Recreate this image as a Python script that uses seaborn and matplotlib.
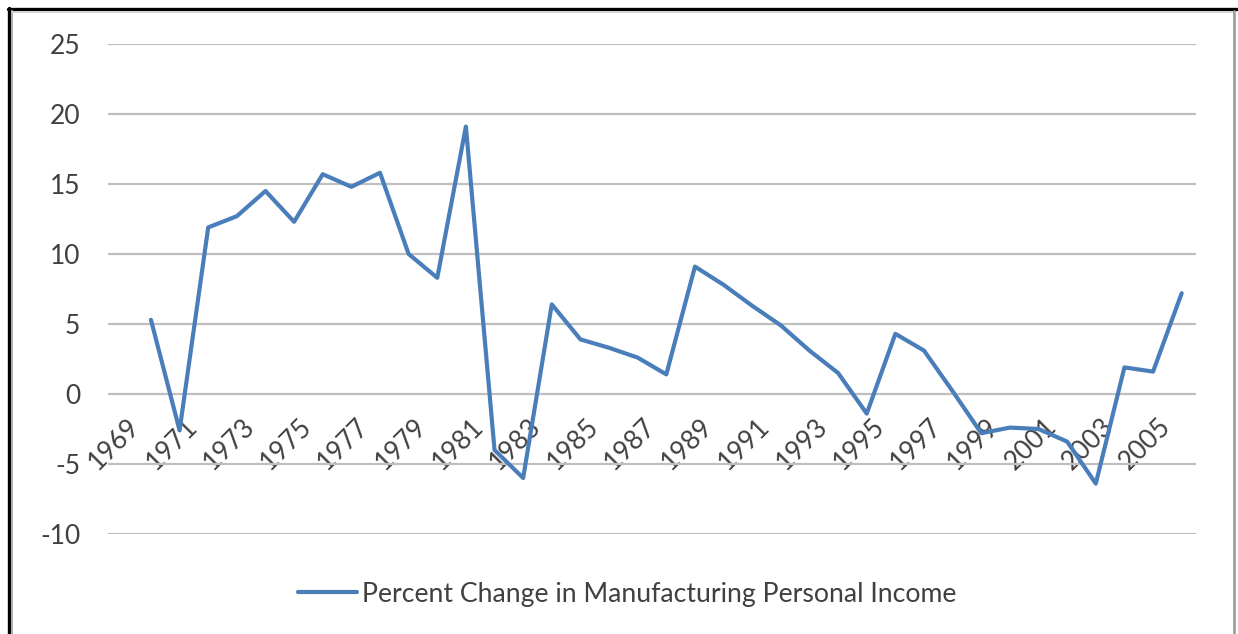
import matplotlib
matplotlib.use("Agg")
import matplotlib.pyplot as plt
import matplotlib.transforms as mtransforms
import pandas as pd
import seaborn as sns
from matplotlib.lines import Line2D

years = list(range(1970, 2007))
pct_change = [
    5.3, -2.6, 11.9, 12.7, 14.5, 12.3, 15.7, 14.8, 15.8, 10.0,
    8.3, 19.1, -4.0, -6.0, 6.4, 3.9, 3.3, 2.6, 1.4, 9.1,
    7.8, 6.3, 4.9, 3.1, 1.5, -1.4, 4.3, 3.1, 0.2, -2.8,
    -2.4, -2.5, -3.4, -6.4, 1.9, 1.6, 7.2,
]
tick_years = list(range(1969, 2006, 2))
y_ticks = [-10, -5, 0, 5, 10, 15, 20, 25]
series_name = "Percent Change in Manufacturing Personal Income"

W, H, DPI = 1238, 634, 100
LINE_COLOR = "#4a7ebb"
TEXT_COLOR = "#404040"

sns.set_style("white")
plt.rcParams["font.family"] = ["Lato", "DejaVu Sans"]

df = pd.DataFrame({"year": years, "value": pct_change})

fig = plt.figure(figsize=(W / DPI, H / DPI), dpi=DPI)
ax = fig.add_axes([108 / W, 1 - 534 / H, (1196 - 108) / W, (534 - 44) / H])

sns.lineplot(data=df, x="year", y="value", ax=ax, color=LINE_COLOR,
             linewidth=3.0, label=series_name, legend=False)

ax.set_xlim(1968.5, 2006.5)
ax.set_ylim(-10, 25)
ax.set_yticks(y_ticks)
ax.set_yticklabels([str(v) for v in y_ticks], fontsize=19, color=TEXT_COLOR)
ax.yaxis.grid(True, color="#bfbfbf", linewidth=1.6)
ax.set_axisbelow(True)
ax.tick_params(axis="y", length=0, pad=20)

# category labels sit on the zero line, like the Excel chart
for s in ["top", "right", "left"]:
    ax.spines[s].set_visible(False)
ax.spines["bottom"].set_position(("data", 0))
ax.spines["bottom"].set_visible(False)
ax.set_xticks(tick_years)
ax.set_xticklabels([str(y) for y in tick_years], rotation=45, ha="right",
                   va="top", rotation_mode="anchor", fontsize=19,
                   color=TEXT_COLOR)
ax.tick_params(axis="x", length=0, pad=14)
shift = mtransforms.ScaledTranslation(5 / DPI, 0, fig.dpi_scale_trans)
for lbl in ax.get_xticklabels():
    lbl.set_transform(lbl.get_transform() + shift)
ax.set_xlabel("")
ax.set_ylabel("")

handle = Line2D([], [], color=LINE_COLOR, linewidth=3.0)
fig.legend([handle], [series_name], loc="center", bbox_to_anchor=(0.507, 0.063),
           frameon=False, fontsize=19.2, handlelength=2.2, handletextpad=0.2,
           labelcolor=TEXT_COLOR)

# outer frame of the screenshot
fig.add_artist(Line2D([9 / W, 9 / W], [0, 1 - 8 / H], color="black", linewidth=2.4,
                      transform=fig.transFigure))
fig.add_artist(Line2D([8 / W, 1], [1 - 9 / H, 1 - 9 / H], color="black", linewidth=2.4,
                      transform=fig.transFigure))
fig.add_artist(Line2D([12 / W, 12 / W], [0, 1 - 11 / H], color="#b0b0b0", linewidth=1.5,
                      transform=fig.transFigure))
fig.add_artist(Line2D([12 / W, 1234 / W], [1 - 12 / H, 1 - 12 / H], color="#d0d0d0",
                      linewidth=1.2, transform=fig.transFigure))
fig.add_artist(Line2D([1234 / W, 1234 / W], [0, 1 - 11 / H], color="#a0a0a0",
                      linewidth=2.0, transform=fig.transFigure))

fig.savefig("out.png", dpi=DPI)
